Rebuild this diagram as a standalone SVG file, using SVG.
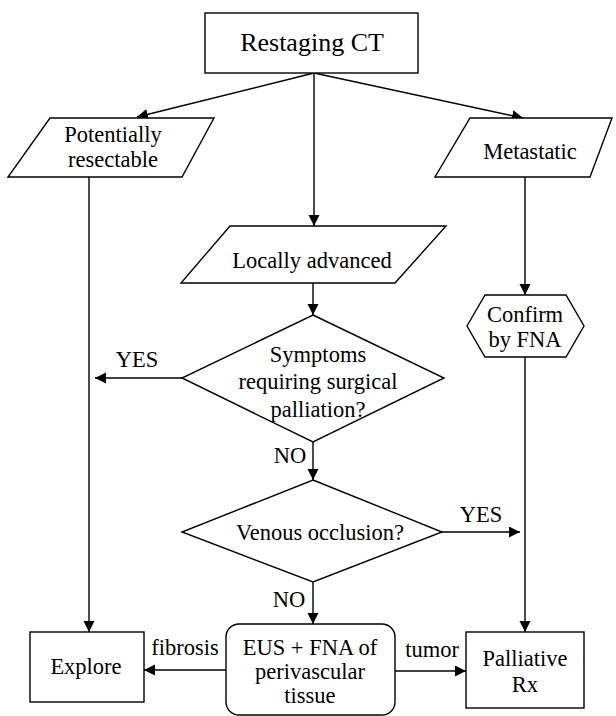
<svg xmlns="http://www.w3.org/2000/svg" width="616" height="716" viewBox="0 0 616 716">
<style>
.shape{fill:#fff;stroke:#000;stroke-width:1.4}
.t{font-family:"Liberation Serif","Times New Roman",serif;font-size:22.5px;fill:#000;text-anchor:middle}
.big{font-size:26px}
.edge{fill:none;stroke:#000;stroke-width:1.4}
</style>
<defs>
<marker id="ah" markerUnits="userSpaceOnUse" markerWidth="12" markerHeight="12" refX="11" refY="5.5" orient="auto">
<path d="M0,0 L11,5.5 L0,11 z" fill="#000"/>
</marker>
</defs>
<rect width="616" height="716" fill="#fff"/>
<g id="connectors">
<line class="edge" x1="314" y1="73" x2="137" y2="117" marker-end="url(#ah)"/>
<line class="edge" x1="314" y1="73" x2="523" y2="118" marker-end="url(#ah)"/>
<line class="edge" x1="314" y1="73" x2="314" y2="226" marker-end="url(#ah)"/>
<line class="edge" x1="313" y1="283" x2="313" y2="315" marker-end="url(#ah)"/>
<line class="edge" x1="525" y1="177" x2="525" y2="295" marker-end="url(#ah)"/>
<line class="edge" x1="525" y1="357" x2="525" y2="632" marker-end="url(#ah)"/>
<line class="edge" x1="89" y1="177" x2="89" y2="632" marker-end="url(#ah)"/>
<line class="edge" x1="182" y1="378" x2="95" y2="378" marker-end="url(#ah)"/>
<line class="edge" x1="313" y1="442" x2="313" y2="480" marker-end="url(#ah)"/>
<line class="edge" x1="442" y1="532" x2="520" y2="532" marker-end="url(#ah)"/>
<line class="edge" x1="313" y1="582" x2="313" y2="624" marker-end="url(#ah)"/>
<line class="edge" x1="226" y1="670" x2="144" y2="670" marker-end="url(#ah)"/>
<line class="edge" x1="395" y1="671" x2="466" y2="671" marker-end="url(#ah)"/>
<text class="t" x="137" y="367">YES</text>
<text class="t" x="290" y="463">NO</text>
<text class="t" x="481" y="522">YES</text>
<text class="t" x="289" y="607">NO</text>
<text class="t" x="185" y="655">fibrosis</text>
<text class="t" x="432" y="657">tumor</text>
</g>
<g id="restaging">
<rect class="shape" x="205" y="13" width="213" height="60"/>
<text class="t big" x="312" y="51">Restaging CT</text>
</g>
<g id="resectable">
<polygon class="shape" points="50,118 214,118 182,177 8,177"/>
<text class="t" x="113" y="142">Potentially</text>
<text class="t" x="113" y="167">resectable</text>
</g>
<g id="metastatic">
<polygon class="shape" points="470,118 612,118 590,177 435,177"/>
<text class="t" x="530" y="159">Metastatic</text>
</g>
<g id="locally">
<polygon class="shape" points="230,226 446,226 395,283 181,283"/>
<text class="t" x="312" y="268">Locally advanced</text>
</g>
<g id="confirm">
<polygon class="shape" points="467,326 485,295 566,295 584,326 566,357 485,357"/>
<text class="t" x="525" y="322">Confirm</text>
<text class="t" x="525" y="347">by FNA</text>
</g>
<g id="symptoms">
<polygon class="shape" points="313,315 444,378 313,442 182,378"/>
<text class="t" x="318" y="362">Symptoms</text>
<text class="t" x="318" y="389">requiring surgical</text>
<text class="t" x="318" y="417">palliation?</text>
</g>
<g id="venous">
<polygon class="shape" points="313,480 442,532 313,582 182,532"/>
<text class="t" x="320" y="540">Venous occlusion?</text>
</g>
<g id="explore">
<rect class="shape" x="30" y="632" width="114" height="70"/>
<text class="t" x="86" y="674">Explore</text>
</g>
<g id="eus">
<rect class="shape" x="226" y="624" width="169" height="91" rx="13"/>
<text class="t" x="310" y="655">EUS + FNA of</text>
<text class="t" x="310" y="679">perivascular</text>
<text class="t" x="310" y="703">tissue</text>
</g>
<g id="palliative">
<rect class="shape" x="466" y="632" width="118" height="76"/>
<text class="t" x="525" y="666">Palliative</text>
<text class="t" x="525" y="692">Rx</text>
</g>
</svg>
